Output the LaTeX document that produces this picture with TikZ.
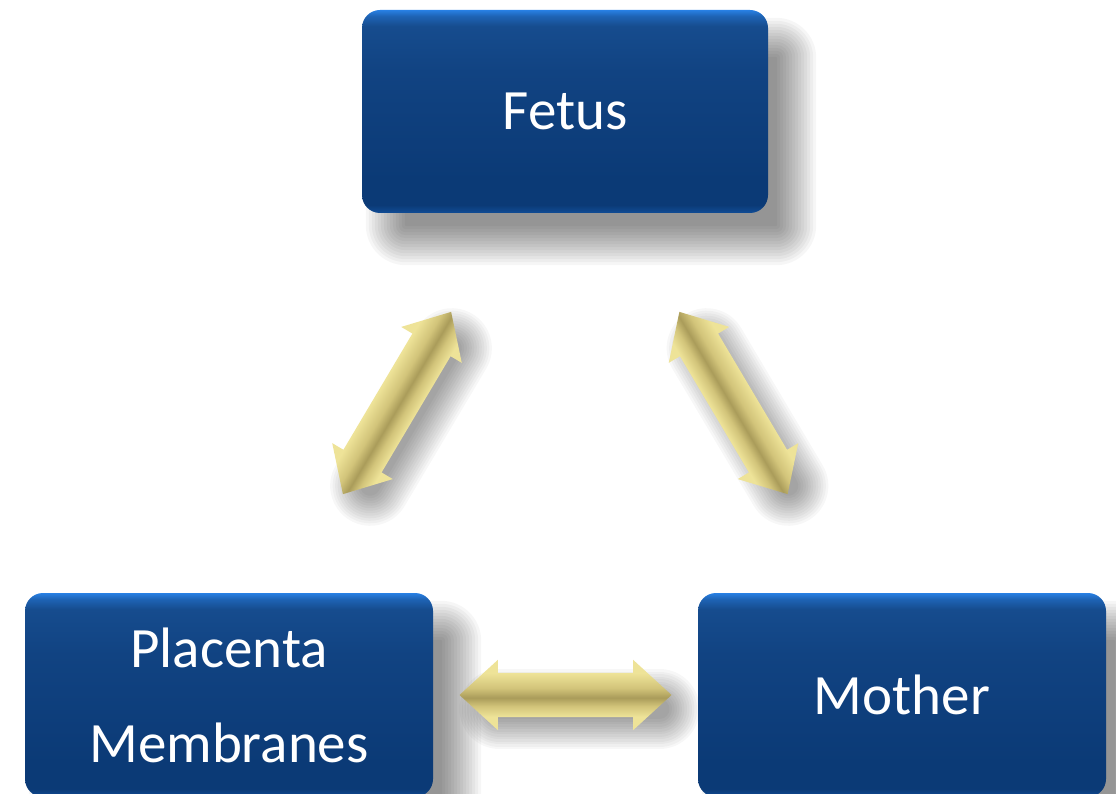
\documentclass[tikz,border=0pt]{standalone}
\usepackage{fontspec}
\setmainfont{Carlito}
\usetikzlibrary{shapes.arrows, calc}
\definecolor{boxrim}{RGB}{40,128,228}
\definecolor{boxtop}{RGB}{22,76,142}
\definecolor{boxface}{RGB}{17,67,130}
\definecolor{boxdeep}{RGB}{11,58,118}
\definecolor{boxedge}{RGB}{16,76,150}
\definecolor{armlight}{RGB}{238,227,152}
\definecolor{armmid}{RGB}{210,196,122}
\definecolor{armdark}{RGB}{170,156,90}
\pgfdeclareverticalshading{boxshade}{100bp}{color(0bp)=(boxedge); color(25bp)=(boxedge);
  color(27bp)=(boxdeep); color(33bp)=(boxdeep); color(60bp)=(boxface); color(71bp)=(boxtop);
  color(73.5bp)=(boxrim!45!boxtop); color(75bp)=(boxrim); color(100bp)=(boxrim)}
\pgfdeclareverticalshading{armshade}{100bp}{color(0bp)=(armlight); color(34.5bp)=(armlight);
  color(42bp)=(armmid); color(48bp)=(armdark); color(55bp)=(armmid); color(65.5bp)=(armlight);
  color(100bp)=(armlight)}
\pgfdeclarelayer{paper}
\pgfdeclarelayer{shadow}
\pgfsetlayers{paper,shadow,main}
\tikzset{
  partbox/.style={
    shade, shading=boxshade, rounded corners=18pt,
    minimum width=406pt, minimum height=203pt,
    text=white, font=\fontsize{57}{95}\selectfont, align=center
  },
  exchange/.style={
    double arrow, shade, shading=armshade,
    inner xsep=0pt, inner ysep=22pt, minimum height=212pt,
    double arrow head extend=13pt, double arrow tip angle=85
  }
}
% soft shadow of a box, offset right and down
\newcommand{\boxshadow}[1]{%
  \foreach \k [evaluate=\k as \e using 22-3*\k, evaluate=\k as \r using 40-3*\k] in {0,...,13}
    \fill[black, opacity=0.035, rounded corners=\r pt]
      ($(#1.north west)+({(26-\e)*1pt},{(-30+\e)*1pt})$) rectangle
      ($(#1.south east)+({(26+\e)*1pt},{(-30-\e)*1pt})$);}
% soft shadow of an arrow: middle, direction
\newcommand{\armshadow}[2]{%
  \foreach \k [evaluate=\k as \w using 80-5*\k] in {0,...,12}
    \draw[black, opacity=0.032, line width=\w pt, line cap=round]
      ($(#1)+(#2:-80pt)+(14pt,-14pt)$) -- ($(#1)+(#2:80pt)+(14pt,-14pt)$);}

\begin{document}
\begin{tikzpicture}[x=1pt, y=-1pt]
  \useasboundingbox (0,0) rectangle (1116,794);
  \begin{pgfonlayer}{paper}
    \fill[white] (0,0) rectangle (1116,794);
  \end{pgfonlayer}
  % the three boxes
  \node[partbox] (fetus) at (565,111.5) {Fetus};
  \node[partbox, minimum width=408pt, minimum height=204pt] (placenta) at (229,695) {Placenta\\Membranes};
  \node[partbox, minimum width=408pt, minimum height=204pt] (mother) at (902,695) {Mother};
  \coordinate (pfmid) at ($(fetus.south)!0.5!(placenta.north)$);
  \coordinate (mfmid) at ($(fetus.south)!0.5!(mother.north)$);
  \coordinate (pmmid) at ($(placenta.east)!0.5!(mother.west)$);
  \begin{pgfonlayer}{shadow}
    \boxshadow{fetus}
    \boxshadow{placenta}
    \boxshadow{mother}
    \armshadow{pfmid}{59.3}
    \armshadow{mfmid}{-59.3}
    \armshadow{pmmid}{0}
  \end{pgfonlayer}
  % exchange arrows, turned with the canvas so the shading follows them
  \begin{scope}[transform canvas={shift={(pfmid)}, rotate=59.3}]
    \node[exchange] (placentafetus) at (0,0) {};
  \end{scope}
  \begin{scope}[transform canvas={shift={(mfmid)}, rotate=-59.3}]
    \node[exchange] (motherfetus) at (0,0) {};
  \end{scope}
  \node[exchange] (placentamother) at (pmmid) {};
\end{tikzpicture}
\end{document}
